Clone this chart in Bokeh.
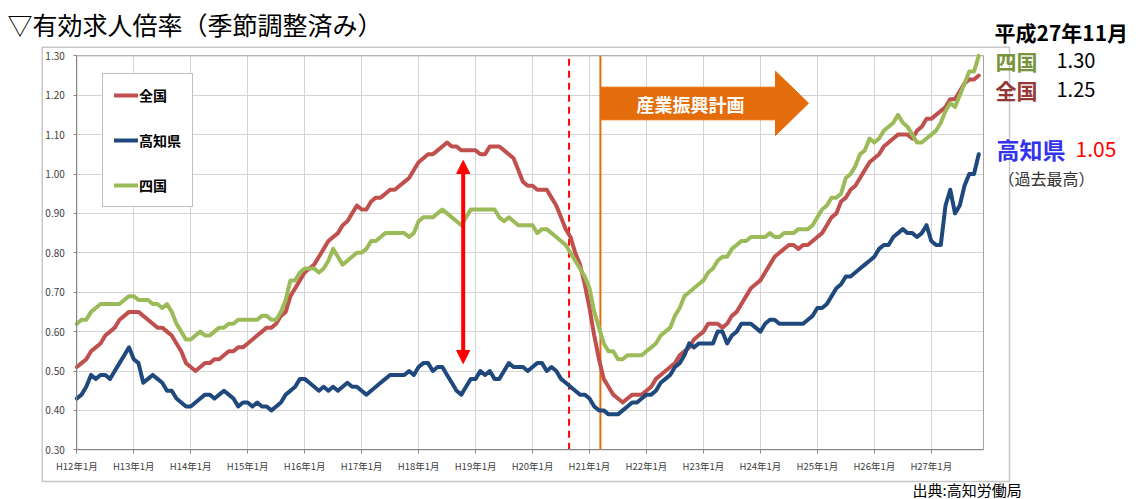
from bokeh.plotting import figure
from bokeh.models import (Range1d, FixedTicker, Label, Arrow, NormalHead, Legend,
                          LegendItem, BoxAnnotation, LinearAxis, Grid)
from bokeh.embed import file_html
from bokeh.resources import INLINE

FONT = "Noto Sans CJK JP"

# ---------------- data (monthly, H12年1月 .. H27年11月) ----------------
months = list(range(191))
tick_pos = [0, 12, 24, 36, 48, 60, 72, 84, 96, 108, 120, 132, 144, 156, 168, 180]
tick_labels = ["H12年1月", "H13年1月", "H14年1月", "H15年1月", "H16年1月", "H17年1月",
               "H18年1月", "H19年1月", "H20年1月", "H21年1月", "H22年1月", "H23年1月",
               "H24年1月", "H25年1月", "H26年1月", "H27年1月"]
y_ticks = [0.30, 0.40, 0.50, 0.60, 0.70, 0.80, 0.90, 1.00, 1.10, 1.20, 1.30]
y_tick_labels = ["0.30", "0.40", "0.50", "0.60", "0.70", "0.80", "0.90", "1.00",
                 "1.10", "1.20", "1.30"]

zenkoku = [
    0.51, 0.52, 0.53, 0.55, 0.56, 0.57, 0.59, 0.60, 0.61, 0.63, 0.64, 0.65,
    0.65, 0.65, 0.64, 0.63, 0.62, 0.61, 0.61, 0.60, 0.59, 0.57, 0.55, 0.52,
    0.51, 0.50, 0.51, 0.52, 0.52, 0.53, 0.53, 0.54, 0.55, 0.55, 0.56, 0.56,
    0.57, 0.58, 0.59, 0.60, 0.61, 0.61, 0.62, 0.64, 0.65, 0.69, 0.71, 0.73,
    0.75, 0.76, 0.77, 0.79, 0.81, 0.83, 0.84, 0.85, 0.87, 0.88, 0.90, 0.92,
    0.91, 0.91, 0.93, 0.94, 0.94, 0.95, 0.96, 0.96, 0.97, 0.98, 0.99, 1.01,
    1.03, 1.04, 1.05, 1.05, 1.06, 1.07, 1.08, 1.07, 1.07, 1.06, 1.06, 1.06,
    1.06, 1.05, 1.05, 1.07, 1.07, 1.07, 1.06, 1.05, 1.04, 1.01, 0.98, 0.97,
    0.97, 0.96, 0.96, 0.96, 0.94, 0.92, 0.89, 0.86, 0.84, 0.80, 0.77, 0.72,
    0.66, 0.59, 0.53, 0.48, 0.46, 0.44, 0.43, 0.42, 0.43, 0.44, 0.44, 0.44,
    0.45, 0.46, 0.48, 0.49, 0.50, 0.51, 0.52, 0.54, 0.55, 0.56, 0.58, 0.59,
    0.60, 0.62, 0.62, 0.62, 0.61, 0.62, 0.64, 0.65, 0.67, 0.69, 0.71, 0.72,
    0.73, 0.75, 0.77, 0.79, 0.80, 0.81, 0.82, 0.82, 0.81, 0.82, 0.82, 0.83,
    0.84, 0.85, 0.87, 0.89, 0.90, 0.93, 0.94, 0.96, 0.97, 0.99, 1.01, 1.03,
    1.04, 1.05, 1.07, 1.08, 1.09, 1.10, 1.10, 1.10, 1.09, 1.11, 1.12, 1.14,
    1.14, 1.15, 1.16, 1.17, 1.19, 1.19, 1.21, 1.23, 1.24, 1.24, 1.25,
]

kochi = [
    0.43, 0.44, 0.46, 0.49, 0.48, 0.49, 0.49, 0.48, 0.50, 0.52, 0.54, 0.56,
    0.53, 0.52, 0.47, 0.48, 0.49, 0.48, 0.47, 0.45, 0.45, 0.43, 0.42, 0.41,
    0.41, 0.42, 0.43, 0.44, 0.44, 0.43, 0.44, 0.45, 0.44, 0.43, 0.41, 0.42,
    0.42, 0.41, 0.42, 0.41, 0.41, 0.40, 0.41, 0.42, 0.44, 0.45, 0.46, 0.48,
    0.48, 0.47, 0.46, 0.45, 0.46, 0.45, 0.46, 0.45, 0.46, 0.47, 0.46, 0.46,
    0.45, 0.44, 0.45, 0.46, 0.47, 0.48, 0.49, 0.49, 0.49, 0.49, 0.50, 0.49,
    0.51, 0.52, 0.52, 0.50, 0.51, 0.51, 0.49, 0.47, 0.45, 0.44, 0.46, 0.48,
    0.48, 0.50, 0.49, 0.50, 0.48, 0.48, 0.50, 0.52, 0.51, 0.51, 0.51, 0.50,
    0.51, 0.52, 0.52, 0.50, 0.51, 0.50, 0.48, 0.47, 0.46, 0.45, 0.44, 0.44,
    0.43, 0.41, 0.40, 0.40, 0.39, 0.39, 0.39, 0.40, 0.41, 0.42, 0.42, 0.43,
    0.44, 0.44, 0.45, 0.47, 0.48, 0.49, 0.51, 0.52, 0.54, 0.57, 0.56, 0.57,
    0.57, 0.57, 0.57, 0.60, 0.60, 0.57, 0.59, 0.60, 0.62, 0.62, 0.62, 0.61,
    0.60, 0.62, 0.63, 0.63, 0.62, 0.62, 0.62, 0.62, 0.62, 0.62, 0.63, 0.64,
    0.66, 0.66, 0.67, 0.69, 0.71, 0.72, 0.74, 0.74, 0.75, 0.76, 0.77, 0.78,
    0.79, 0.81, 0.82, 0.82, 0.84, 0.85, 0.86, 0.85, 0.85, 0.84, 0.85, 0.87,
    0.83, 0.82, 0.82, 0.92, 0.96, 0.90, 0.92, 0.97, 1.00, 1.00, 1.05,
]

shikoku = [
    0.62, 0.63, 0.63, 0.65, 0.66, 0.67, 0.67, 0.67, 0.67, 0.67, 0.68, 0.69,
    0.69, 0.68, 0.68, 0.68, 0.67, 0.67, 0.66, 0.67, 0.65, 0.62, 0.60, 0.58,
    0.58, 0.59, 0.60, 0.59, 0.59, 0.60, 0.61, 0.61, 0.62, 0.62, 0.63, 0.63,
    0.63, 0.63, 0.63, 0.64, 0.64, 0.63, 0.63, 0.65, 0.68, 0.73, 0.73, 0.75,
    0.76, 0.76, 0.76, 0.75, 0.76, 0.78, 0.81, 0.79, 0.77, 0.78, 0.79, 0.80,
    0.80, 0.81, 0.83, 0.83, 0.84, 0.85, 0.85, 0.85, 0.85, 0.85, 0.84, 0.85,
    0.88, 0.89, 0.89, 0.89, 0.90, 0.91, 0.90, 0.89, 0.88, 0.87, 0.89, 0.91,
    0.91, 0.91, 0.91, 0.91, 0.91, 0.89, 0.88, 0.89, 0.88, 0.87, 0.87, 0.87,
    0.87, 0.85, 0.86, 0.86, 0.85, 0.84, 0.83, 0.82, 0.80, 0.78, 0.76, 0.74,
    0.71, 0.65, 0.61, 0.57, 0.55, 0.55, 0.53, 0.53, 0.54, 0.54, 0.54, 0.54,
    0.55, 0.56, 0.57, 0.59, 0.60, 0.61, 0.64, 0.66, 0.69, 0.70, 0.71, 0.72,
    0.73, 0.75, 0.76, 0.78, 0.79, 0.79, 0.81, 0.82, 0.83, 0.83, 0.84, 0.84,
    0.84, 0.84, 0.85, 0.84, 0.84, 0.85, 0.85, 0.85, 0.86, 0.86, 0.86, 0.87,
    0.89, 0.91, 0.92, 0.94, 0.94, 0.95, 0.99, 1.00, 1.02, 1.05, 1.06, 1.09,
    1.08, 1.09, 1.11, 1.12, 1.13, 1.15, 1.13, 1.12, 1.10, 1.08, 1.08, 1.09,
    1.10, 1.11, 1.13, 1.16, 1.18, 1.17, 1.20, 1.23, 1.26, 1.26, 1.30,
]

# event markers (month index)
lehman_month = 103.7
plan_month = 110.3

# ---------------- geometry: frame = whole canvas ----------------
W, H = 1136, 499
PL, PR, PT, PB = 76.3, 983.0, 55.3, 449.3      # plot-area pixels
XA, XB = 0.0, 191.0                              # data x at PL / PR
YA, YB = 0.30, 1.30                              # data y at PB / PT
kx = (XB - XA) / (PR - PL)
ky = (YB - YA) / (PB - PT)
x_start, x_end = XA - PL * kx, XB + (W - PR) * kx
y_start, y_end = YA - (H - PB) * ky, YB + PT * ky


def dx(px):
    return x_start + px * kx


def dy(py):
    return y_end - py * ky


p = figure(width=W, height=H, x_range=Range1d(x_start, x_end),
           y_range=Range1d(y_start, y_end), x_axis_type=None, y_axis_type=None,
           output_backend="svg", toolbar_location=None,
           min_border=0, min_border_left=0, min_border_right=0,
           min_border_top=0, min_border_bottom=0)
p.background_fill_color = "white"
p.border_fill_color = "white"
p.outline_line_color = None

# outer chart border
p.add_layout(BoxAnnotation(left=dx(41.7), right=dx(1009), top=dy(46.7), bottom=dy(481),
                           fill_alpha=0, line_color="#c8c8c8", line_alpha=1,
                           line_width=1.5, level="underlay"))

# grids limited to the plot area
xg = Grid(dimension=0, ticker=FixedTicker(ticks=tick_pos), cross_bounds=(YA, YB),
          grid_line_color="#d4d4d4", grid_line_width=1)
yg = Grid(dimension=1, ticker=FixedTicker(ticks=y_ticks), cross_bounds=(XA, XB),
          grid_line_color="#d4d4d4", grid_line_width=1)
p.add_layout(xg)
p.add_layout(yg)

# plot-area outline
p.add_layout(BoxAnnotation(left=XA, right=XB, bottom=YA, top=YB, fill_alpha=0,
                           line_color="#a6a6a6", line_alpha=1, line_width=1,
                           level="underlay"))

# axes fixed at the plot-area edges
xaxis = LinearAxis(fixed_location=YA, bounds=(XA, XB), ticker=FixedTicker(ticks=tick_pos),
                   major_label_overrides={t: l for t, l in zip(tick_pos, tick_labels)})
yaxis = LinearAxis(fixed_location=XA, bounds=(YA, YB), ticker=FixedTicker(ticks=y_ticks),
                   major_label_overrides={t: l for t, l in zip(y_ticks, y_tick_labels)})
for ax in (xaxis, yaxis):
    ax.axis_line_color = "#868686"
    ax.major_tick_line_color = "#868686"
    ax.minor_tick_line_color = None
    ax.major_tick_in = 0
    ax.major_label_text_font = FONT
    ax.major_label_text_color = "#404040"
xaxis.major_tick_out = 4
yaxis.major_tick_out = 3
xaxis.major_label_text_font_size = "9.5px"
yaxis.major_label_text_font_size = "10px"
xaxis.major_label_standoff = 5
yaxis.major_label_standoff = 9
p.add_layout(xaxis, "below")
p.add_layout(yaxis, "left")

# vertical event lines
p.segment(x0=[lehman_month], y0=[YA], x1=[lehman_month], y1=[YB],
          line_color="#ff0000", line_width=2, line_dash="7 5")
p.segment(x0=[plan_month], y0=[YA], x1=[plan_month], y1=[YB],
          line_color="#e46c0a", line_width=2)

# series
C_Z, C_K, C_S = "#c0504d", "#1f497d", "#9bbb59"
rz = p.line(months, zenkoku, line_color=C_Z, line_width=4, line_join="round", line_cap="round")
rk = p.line(months, kochi, line_color=C_K, line_width=4, line_join="round", line_cap="round")
rs = p.line(months, shikoku, line_color=C_S, line_width=4, line_join="round", line_cap="round")

# orange block arrow
arrow_x = [dx(v) for v in (600, 775, 775, 808, 775, 775, 600)]
arrow_y = [dy(v) for v in (86.7, 86.7, 70.7, 102.7, 135, 119.3, 119.3)]
p.patch(arrow_x, arrow_y, fill_color="#e46c0a", line_color="#e46c0a")


def txt(x, y, s, size, color="black", style="normal", align="left"):
    p.add_layout(Label(x=dx(x), y=dy(y), text=s, text_font=FONT, text_font_size=size,
                       text_color=color, text_font_style=style, text_align=align,
                       text_baseline="middle"))


txt(690, 103, "産業振興計画", "18px", color="white", style="bold", align="center")

# red double arrow
p.add_layout(Arrow(start=NormalHead(size=13, fill_color="#ff0000", line_color="#ff0000"),
                   end=NormalHead(size=13, fill_color="#ff0000", line_color="#ff0000"),
                   x_start=dx(462.7), y_start=dy(363), x_end=dx(462.7), y_end=dy(160),
                   line_color="#ff0000", line_width=4))

# legend (location relative to the frame's bottom-left = canvas bottom-left)
legend = Legend(items=[LegendItem(label="全国", renderers=[rz]),
                       LegendItem(label="高知県", renderers=[rk]),
                       LegendItem(label="四国", renderers=[rs])],
                location=(102, H - 207), margin=0, padding=11, spacing=25,
                label_height=20, glyph_height=20, glyph_width=24, label_standoff=1,
                label_text_font=FONT, label_text_font_size="14px",
                label_text_font_style="bold", label_text_color="black",
                border_line_color="#7f7f7f", border_line_width=1,
                background_fill_color="white", background_fill_alpha=1)
p.add_layout(legend)

# title and side notes
txt(7, 23, "▽有効求人倍率（季節調整済み）", "25px")
txt(994, 31, "平成27年11月", "21px", style="bold")
txt(995, 60, "四国", "21px", color="#77933c", style="bold")
txt(1056, 60, "1.30", "20px")
txt(995, 89, "全国", "21px", color="#953735", style="bold")
txt(1056, 89, "1.25", "20px")
txt(996, 148, "高知県", "23px", color="#3333ee", style="bold")
txt(1075, 148, "1.05", "21px", color="#ff0000")
txt(998, 177, "（過去最高）", "16px", color="#333333")
txt(912, 489, "出典:高知労働局", "15px")

open("out.html", "w").write(file_html(p, INLINE))
